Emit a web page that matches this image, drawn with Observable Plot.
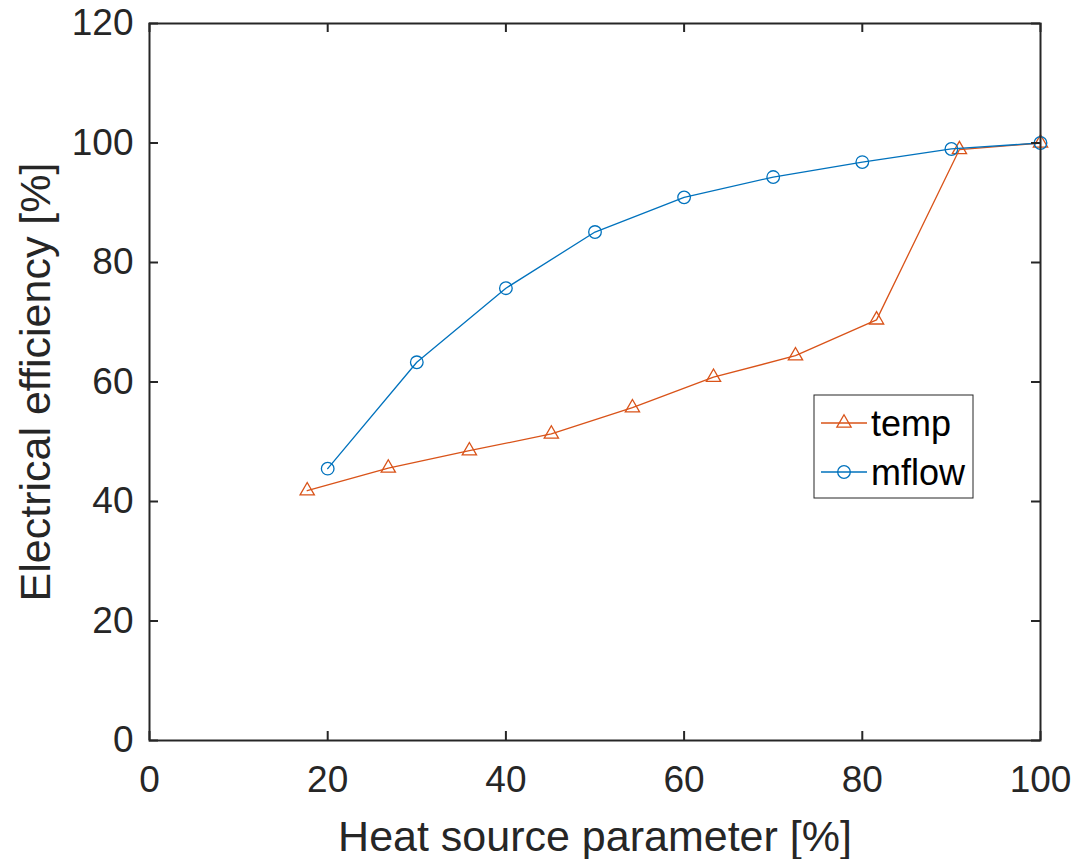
<!DOCTYPE html>
<html>
<head>
<meta charset="utf-8">
<script src="https://cdn.jsdelivr.net/npm/d3@7"></script>
<script src="https://cdn.jsdelivr.net/npm/@observablehq/plot@0.6"></script>
<style>
  html, body { margin: 0; padding: 0; background: #fff; }
  #wrap { position: relative; width: 1082px; height: 859px; }
  #legend { position: absolute; left: 0; top: 0; }
</style>
</head>
<body>
<div id="wrap"></div>
<script>
// ---- data ----
const tempX = [17.7, 26.8, 35.9, 45.1, 54.2, 63.3, 72.5, 81.6, 90.9, 100];
const tempY = [41.8, 45.6, 48.5, 51.3, 55.7, 60.8, 64.4, 70.4, 98.9, 100];
const mflowX = [20, 30, 40, 50, 60, 70, 80, 90, 100];
const mflowY = [45.5, 63.3, 75.7, 85.1, 90.9, 94.3, 96.8, 99.0, 100];
const xTicks = [0, 20, 40, 60, 80, 100];
const yTicks = [0, 20, 40, 60, 80, 100, 120];
const seriesNames = ["temp", "mflow"];
const colors = ["#D95319", "#0072BD"];
const xLabel = "Heat source parameter [%]";
const yLabel = "Electrical efficiency [%]";

const temp = tempX.map((x, i) => ({x, y: tempY[i]}));
const mflow = mflowX.map((x, i) => ({x, y: mflowY[i]}));

const W = 1082, H = 859;
const mL = 149, mR = 42, mT = 23, mB = 119;
const innerW = W - mL - mR, innerH = H - mT - mB;
const axisColor = "#262626";
const font = "'Liberation Sans', Arial, Helvetica, sans-serif";
const tick = 9;

const chart = Plot.plot({
  width: W, height: H,
  marginLeft: mL, marginRight: mR, marginTop: mT, marginBottom: mB,
  style: {fontFamily: font, background: "#fff", overflow: "visible"},
  x: {domain: [0, 100], axis: null},
  y: {domain: [0, 120], axis: null},
  marks: [
    Plot.line(temp, {x: "x", y: "y", stroke: colors[0], strokeWidth: 1.3}),
    Plot.dot(temp, {x: "x", y: "y", symbol: "triangle", r: 5.3, stroke: colors[0], fill: "none", strokeWidth: 1.3}),
    Plot.line(mflow, {x: "x", y: "y", stroke: colors[1], strokeWidth: 1.3}),
    Plot.dot(mflow, {x: "x", y: "y", symbol: "circle", r: 6.3, stroke: colors[1], fill: "none", strokeWidth: 1.3}),
    // inward ticks on all four sides
    Plot.tickX(xTicks, {x: d => d, insetTop: innerH - tick, stroke: axisColor, strokeWidth: 2}),
    Plot.tickX(xTicks, {x: d => d, insetBottom: innerH - tick, stroke: axisColor, strokeWidth: 2}),
    Plot.tickY(yTicks, {y: d => d, insetRight: innerW - tick, stroke: axisColor, strokeWidth: 2}),
    Plot.tickY(yTicks, {y: d => d, insetLeft: innerW - tick, stroke: axisColor, strokeWidth: 2}),
    Plot.frame({stroke: axisColor, strokeWidth: 2}),
    // tick labels
    Plot.text(xTicks, {x: d => d, text: d => String(d), frameAnchor: "bottom", dy: 40, lineAnchor: "middle", textAnchor: "middle", fontSize: 37, fill: axisColor}),
    Plot.text(yTicks, {y: d => d, text: d => String(d), frameAnchor: "left", dx: -16, lineAnchor: "middle", textAnchor: "end", fontSize: 37, fill: axisColor}),
    // axis labels
    Plot.text([xLabel], {text: d => d, frameAnchor: "bottom", dy: 97, lineAnchor: "middle", textAnchor: "middle", fontSize: 43, fill: axisColor}),
    Plot.text([yLabel], {text: d => d, frameAnchor: "left", dx: -113, rotate: -90, lineAnchor: "middle", textAnchor: "middle", fontSize: 43, fill: axisColor})
  ]
});
const wrap = document.getElementById("wrap");
wrap.appendChild(chart);

// ---- legend (inside the axes, top-right area) ----
const lg = d3.select(wrap).append("svg")
  .attr("id", "legend")
  .attr("width", W).attr("height", H)
  .style("pointer-events", "none");
const box = {x: 814, y: 395, w: 159, h: 103};
lg.append("rect").attr("x", box.x).attr("y", box.y).attr("width", box.w).attr("height", box.h)
  .attr("fill", "#fff").attr("stroke", "#262626").attr("stroke-width", 1);
const rowY = [423, 472];
seriesNames.forEach((name, i) => {
  const g = lg.append("g");
  g.append("line").attr("x1", 821).attr("x2", 867).attr("y1", rowY[i]).attr("y2", rowY[i])
    .attr("stroke", colors[i]).attr("stroke-width", 1.3);
  const sym = i === 0 ? d3.symbolTriangle : d3.symbolCircle;
  const size = i === 0 ? Math.PI * 5.3 * 5.3 : Math.PI * 6.3 * 6.3;
  g.append("path").attr("d", d3.symbol(sym, size)()).attr("transform", `translate(844,${rowY[i]})`)
    .attr("fill", "none").attr("stroke", colors[i]).attr("stroke-width", 1.3);
  g.append("text").attr("x", 871).attr("y", rowY[i]).attr("dy", "0.35em")
    .attr("font-family", font).attr("font-size", 36).attr("fill", "#000").text(name);
});
</script>
</body>
</html>
